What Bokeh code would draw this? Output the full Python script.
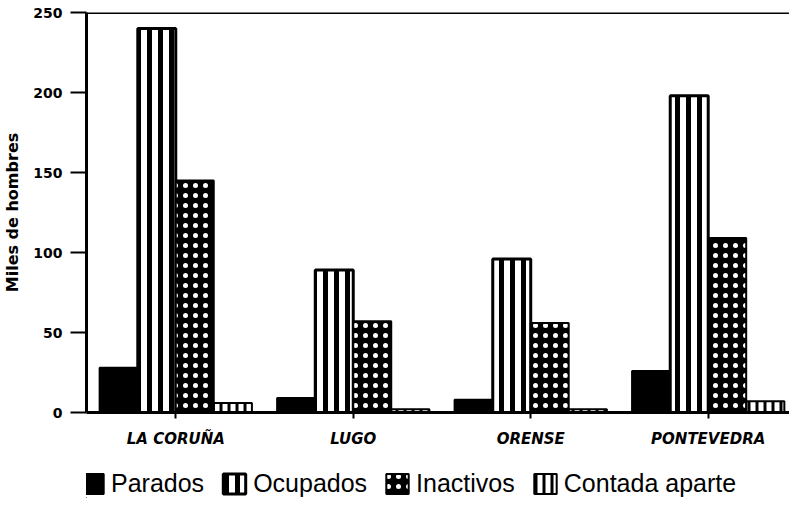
from bokeh.plotting import figure
from bokeh.layouts import column
from bokeh.models import Range1d, FixedTicker, Span, Legend, LegendItem, ColumnDataSource
from bokeh.transform import dodge
from bokeh.embed import file_html
from bokeh.resources import INLINE

provincias = ["LA CORUÑA", "LUGO", "ORENSE", "PONTEVEDRA"]
parados = [28, 9, 8, 26]
ocupados = [240, 89, 96, 198]
inactivos = [145, 57, 56, 109]
contada_aparte = [6, 2, 2, 7]
y_ticks = [0, 50, 100, 150, 200, 250]
series_names = ["Parados", "Ocupados", "Inactivos", "Contada aparte"]

x_pos = list(range(len(provincias)))
src = ColumnDataSource(dict(x=x_pos, parados=parados, ocupados=ocupados,
                            inactivos=inactivos, contada=contada_aparte))

styles = [
    dict(fill_color="black", line_color="black", line_width=2),
    dict(fill_color="white", line_color="black", line_width=3,
         hatch_pattern="vertical_line", hatch_color="black", hatch_scale=11, hatch_weight=5),
    dict(fill_color="black", line_color="black", line_width=2,
         hatch_pattern="dot", hatch_color="white", hatch_scale=10, hatch_weight=5),
    dict(fill_color="white", line_color="black", line_width=2,
         hatch_pattern="vertical_line", hatch_color="black", hatch_scale=8, hatch_weight=3),
]

p = figure(width=789, height=452, x_range=Range1d(-0.503, 3.458), y_range=Range1d(0, 250),
           output_backend="svg", toolbar_location=None,
           min_border_left=80, min_border_top=12, min_border_right=0, min_border_bottom=40)
p.outline_line_color = None
p.grid.visible = False

w = 0.214
offsets = [-0.322, -0.107, 0.107, 0.322]
cols = ["parados", "ocupados", "inactivos", "contada"]
for off, col, st in zip(offsets, cols, styles):
    p.vbar(x=dodge("x", off), top=col, width=w, source=src, **st)

p.add_layout(Span(location=250, dimension="width", line_color="black", line_width=3))

# y axis
p.yaxis.ticker = FixedTicker(ticks=y_ticks)
p.yaxis.axis_line_width = 3
p.yaxis.axis_line_color = "black"
p.yaxis.major_tick_out = 16
p.yaxis.major_tick_in = 0
p.yaxis.major_tick_line_width = 2
p.yaxis.minor_tick_line_color = None
p.yaxis.major_label_text_font = "DejaVu Sans"
p.yaxis.major_label_text_font_style = "bold"
p.yaxis.major_label_text_font_size = "14px"
p.yaxis.major_label_text_color = "black"
p.yaxis.major_label_standoff = 8
p.yaxis.axis_label = "Miles de hombres"
p.yaxis.axis_label_text_font = "DejaVu Sans"
p.yaxis.axis_label_text_font_style = "bold"
p.yaxis.axis_label_text_font_size = "16px"
p.yaxis.axis_label_text_color = "black"
p.yaxis.axis_label_standoff = 8

# x axis
p.xaxis.ticker = FixedTicker(ticks=x_pos)
p.xaxis.major_label_overrides = {i: name for i, name in zip(x_pos, provincias)}
p.xaxis.axis_line_width = 3
p.xaxis.axis_line_color = "black"
p.xaxis.major_tick_out = 6
p.xaxis.major_tick_in = 0
p.xaxis.major_tick_line_width = 2
p.xaxis.minor_tick_line_color = None
p.xaxis.major_label_text_font = "DejaVu Sans"
p.xaxis.major_label_text_font_style = "bold italic"
p.xaxis.major_label_text_font_size = "15px"
p.xaxis.major_label_text_color = "black"
p.xaxis.major_label_standoff = 11

# legend strip (separate figure, legend drawn inside its frame)
lg = figure(width=789, height=46, x_range=Range1d(0, 1), y_range=Range1d(0, 1),
            output_backend="svg", toolbar_location=None,
            x_axis_type=None, y_axis_type=None, min_border=0)
lg.outline_line_color = None
lg.grid.visible = False
items = []
for name, st in zip(series_names, styles):
    # legend swatch renderer: one zero-height bar outside the visible range
    r = lg.vbar(x=[-5], top=[0], width=0.1, **st)
    items.append(LegendItem(label=name, renderers=[r]))

legend = Legend(items=items, orientation="horizontal", location=(-8, 0),
                label_text_font="Liberation Sans", label_text_font_size="25px",
                label_text_color="black",
                glyph_width=28, glyph_height=25, label_standoff=5, spacing=16,
                padding=0, margin=0, border_line_color=None, background_fill_alpha=0)
lg.add_layout(legend, "center")

layout = column(p, lg, spacing=0)
open("out.html", "w").write(file_html(layout, INLINE))
